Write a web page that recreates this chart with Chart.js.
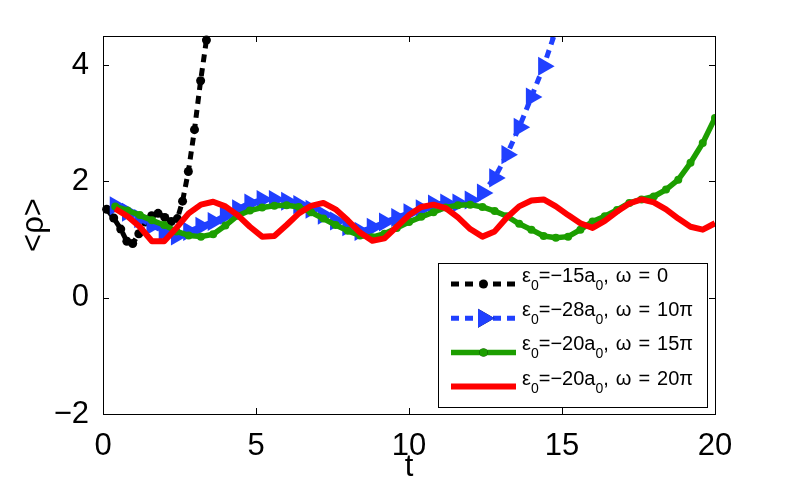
<!DOCTYPE html>
<html>
<head>
<meta charset="utf-8">
<script src="https://cdn.jsdelivr.net/npm/chart.js@4.4.1/dist/chart.umd.min.js"></script>
<style>
html, body { margin: 0; padding: 0; background: #fff; }
#wrap { width: 789px; height: 491px; }
</style>
</head>
<body>
<div id="wrap"><canvas id="plot" width="789" height="491"></canvas></div>
<script>
// sample times shared by the blue, green and red runs
const tGrid = [0.4, 0.8, 1.2, 1.6, 2.0, 2.4, 2.8, 3.2, 3.6, 4.0,
               4.4, 4.8, 5.2, 5.6, 6.0, 6.4, 6.8, 7.2, 7.6, 8.0,
               8.4, 8.8, 9.2, 9.6, 10.0, 10.4, 10.8, 11.2, 11.6, 12.0,
               12.4, 12.8, 13.2, 13.6, 14.0, 14.4, 14.8, 15.2, 15.6, 16.0,
               16.4, 16.8, 17.2, 17.6, 18.0, 18.4, 18.8, 19.2, 19.6, 20.0];

// eps0 = -15 a0, omega = 0 (own time samples)
const tBlack = [0.12, 0.35, 0.58, 0.78, 0.97, 1.17, 1.38, 1.59, 1.8,
                2.02, 2.23, 2.43, 2.6, 2.79, 2.99, 3.19, 3.38];
const rhoBlack = [1.52, 1.37, 1.18, 0.97, 0.93, 1.1, 1.3, 1.41, 1.45,
                  1.38, 1.31, 1.36, 1.66, 2.17, 2.89, 3.73, 4.43];

// eps0 = -28 a0, omega = 10 pi (runs off the top after t ~ 14.8)
const rhoBlue = [1.58, 1.47, 1.36, 1.24, 1.14, 1.06, 1.14, 1.23, 1.31, 1.42,
                 1.53, 1.63, 1.69, 1.69, 1.66, 1.6, 1.52, 1.42, 1.32, 1.22,
                 1.14, 1.21, 1.3, 1.38, 1.46, 1.53, 1.61, 1.63, 1.63, 1.68,
                 1.8, 2.06, 2.46, 2.93, 3.45, 3.98, 4.6];

// eps0 = -20 a0, omega = 15 pi
const rhoGreen = [1.57, 1.5, 1.42, 1.33, 1.25, 1.14, 1.07, 1.05, 1.09, 1.24,
                  1.41, 1.5, 1.55, 1.58, 1.59, 1.56, 1.47, 1.36, 1.25, 1.15,
                  1.07, 1.04, 1.1, 1.2, 1.3, 1.39, 1.47, 1.55, 1.59, 1.6,
                  1.56, 1.49, 1.4, 1.27, 1.17, 1.06, 1.03, 1.05, 1.17, 1.31,
                  1.4, 1.51, 1.63, 1.69, 1.74, 1.86, 2.03, 2.32, 2.66, 3.09];

// eps0 = -20 a0, omega = 20 pi
const rhoRed = [1.53, 1.4, 1.22, 0.97, 0.97, 1.2, 1.45, 1.6, 1.65, 1.57,
                1.42, 1.22, 1.05, 1.06, 1.25, 1.45, 1.58, 1.63, 1.52, 1.33,
                1.12, 0.98, 1.02, 1.22, 1.42, 1.56, 1.6, 1.54, 1.38, 1.18,
                1.05, 1.14, 1.38, 1.57, 1.67, 1.69, 1.57, 1.42, 1.28, 1.2,
                1.32, 1.48, 1.62, 1.69, 1.64, 1.52, 1.36, 1.22, 1.17, 1.28];

const xTicks = [0, 5, 10, 15, 20];
const yTicks = [-2, 0, 2, 4];

// "_" marks the next character as a subscript
const seriesLabels = ['ε_0=−15a_0, ω = 0',
                      'ε_0=−28a_0, ω = 10π',
                      'ε_0=−20a_0, ω = 15π',
                      'ε_0=−20a_0, ω = 20π'];

const FONT = 'Liberation Sans, Arial, Helvetica, sans-serif';
const BLUE = '#2040ff', GREEN = '#1c9e00', RED = '#ff0000';

function pairs(ts, ys) {
    return ys.map((y, i) => ({x: ts[i], y: y}));
}

function minusFmt(v) {
    return v < 0 ? '\u2212' + Math.abs(v) : String(v);
}

// box round the axes with inward ticks on all four sides
const boxPlugin = {
    id: 'box',
    afterDatasetsDraw(chart) {
        const {ctx, chartArea: a, scales} = chart;
        ctx.save();
        ctx.strokeStyle = '#000';
        ctx.lineWidth = 1;
        ctx.setLineDash([]);
        ctx.beginPath();
        xTicks.forEach(v => {
            const px = Math.round(scales.x.getPixelForValue(v)) + 0.5;
            ctx.moveTo(px, a.bottom); ctx.lineTo(px, a.bottom - 6);
            ctx.moveTo(px, a.top); ctx.lineTo(px, a.top + 6);
        });
        yTicks.forEach(v => {
            const py = Math.round(scales.y.getPixelForValue(v)) + 0.5;
            ctx.moveTo(a.left, py); ctx.lineTo(a.left + 6, py);
            ctx.moveTo(a.right, py); ctx.lineTo(a.right - 6, py);
        });
        ctx.stroke();
        ctx.strokeRect(Math.round(a.left) + 0.5, Math.round(a.top) + 0.5,
                       Math.round(a.right - a.left), Math.round(a.bottom - a.top));
        ctx.restore();
    }
};

// legend with subscripts, drawn by hand (Chart.js legend can't do them)
// spaces are widened the way the TeX interpreter spaces them
function drawTexLabel(ctx, text, x, y) {
    let cx = x;
    for (let i = 0; i < text.length; i++) {
        let ch = text[i];
        if (ch === '_') {
            ch = text[++i];
            ctx.font = '14px ' + FONT;
            ctx.fillText(ch, cx, y + 8);
            cx += ctx.measureText(ch).width;
        } else if (ch === ' ') {
            cx += 7;
        } else {
            ctx.font = '20px ' + FONT;
            ctx.fillText(ch, cx, y);
            cx += ctx.measureText(ch).width;
        }
    }
}

const legendPlugin = {
    id: 'texLegend',
    afterDraw(chart) {
        const {ctx, chartArea: a} = chart;
        const bw = 269, bh = 144;
        const bx = Math.round(a.right) - 8 - bw;
        const by = Math.round(a.bottom) - 7 - bh;
        ctx.save();
        ctx.fillStyle = '#fff';
        ctx.fillRect(bx, by, bw, bh);
        ctx.strokeStyle = '#000';
        ctx.lineWidth = 1;
        ctx.strokeRect(bx + 0.5, by + 0.5, bw, bh);

        chart.data.datasets.forEach((ds, i) => {
            const ry = by + 21 + i * 34.2;
            const x0 = bx + 13, x1 = bx + 78;
            ctx.save();
            ctx.strokeStyle = ds.borderColor;
            ctx.lineWidth = ds.borderWidth;
            ctx.setLineDash(ds.borderDash || []);
            ctx.beginPath();
            ctx.moveTo(x0, ry);
            ctx.lineTo(x1, ry);
            ctx.stroke();
            ctx.restore();
            if (ds.pointRadius > 0) {
                Chart.helpers.drawPoint(ctx, {
                    pointStyle: ds.pointStyle || 'circle',
                    rotation: ds.rotation || 0,
                    radius: ds.pointRadius,
                    borderWidth: 0
                }, (x0 + x1) / 2, ry);
                ctx.fillStyle = ds.pointBackgroundColor;
                ctx.fill();
            }
            ctx.fillStyle = '#000';
            ctx.textBaseline = 'alphabetic';
            ctx.textAlign = 'left';
            drawTexLabel(ctx, seriesLabels[i], bx + 84, ry - 2);
        });
        ctx.restore();
    }
};

new Chart(document.getElementById('plot').getContext('2d'), {
    type: 'line',
    data: {
        datasets: [{
            label: seriesLabels[0],
            data: pairs(tBlack, rhoBlack),
            borderColor: '#000',
            borderWidth: 5,
            borderDash: [8, 6],
            pointRadius: 4.5,
            pointBackgroundColor: '#000',
            pointBorderWidth: 0,
            clip: false,
            order: 4
        }, {
            label: seriesLabels[1],
            data: pairs(tGrid, rhoBlue),
            borderColor: BLUE,
            borderWidth: 5,
            borderDash: [8, 6],
            pointStyle: 'triangle',
            rotation: 90,
            pointRadius: 11,
            pointBackgroundColor: BLUE,
            pointBorderWidth: 0,
            order: 3
        }, {
            label: seriesLabels[2],
            data: pairs(tGrid, rhoGreen),
            borderColor: GREEN,
            borderWidth: 5.5,
            pointRadius: 4,
            pointBackgroundColor: GREEN,
            pointBorderWidth: 0,
            borderJoinStyle: 'round',
            order: 2
        }, {
            label: seriesLabels[3],
            data: pairs(tGrid, rhoRed),
            borderColor: RED,
            borderWidth: 6,
            pointRadius: 0,
            borderJoinStyle: 'round',
            order: 1
        }]
    },
    options: {
        responsive: false,
        animation: false,
        devicePixelRatio: 1,
        layout: {padding: {left: 0, top: 36, right: 74, bottom: 0}},
        plugins: {legend: {display: false}, tooltip: {enabled: false}},
        scales: {
            x: {
                type: 'linear',
                min: 0, max: 20,
                afterBuildTicks: s => { s.ticks = xTicks.map(v => ({value: v})); },
                afterFit: s => { s.height = 77; },
                grid: {display: false},
                border: {display: false},
                ticks: {
                    font: {family: FONT, size: 31},
                    color: '#000',
                    padding: 6,
                    maxRotation: 0,
                    autoSkip: false,
                    callback: v => minusFmt(v)
                },
                title: {
                    display: true, text: 't', color: '#000',
                    font: {family: FONT, size: 31},
                    padding: {top: 0, bottom: 5}
                }
            },
            y: {
                type: 'linear',
                min: -2, max: 4.5,
                afterBuildTicks: s => { s.ticks = yTicks.map(v => ({value: v})); },
                afterFit: s => { s.width = 103; },
                grid: {display: false},
                border: {display: false},
                ticks: {
                    font: {family: FONT, size: 31},
                    color: '#000',
                    padding: 6,
                    autoSkip: false,
                    callback: v => minusFmt(v)
                },
                title: {
                    display: true, text: '<ρ>', color: '#000',
                    font: {family: FONT, size: 31},
                    padding: {top: 16, bottom: 0}
                }
            }
        }
    },
    plugins: [boxPlugin, legendPlugin]
});
</script>
</body>
</html>
